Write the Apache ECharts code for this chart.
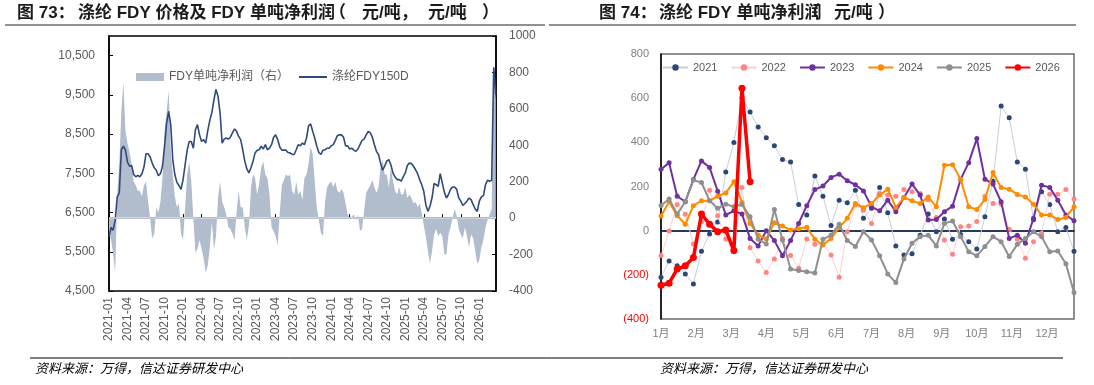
<!DOCTYPE html>
<html><head><meta charset="utf-8">
<script src="https://cdn.jsdelivr.net/npm/echarts@6/dist/echarts.min.js"></script>
<style>html,body{margin:0;padding:0;background:#fff}#c{width:1094px;height:385px}</style>
</head><body><div id="c"></div>
<script>
// ================= LEFT CHART DATA (one value every 1/3 month from 2021-01) =================
const leftXTicks = ['2021-01','2021-04','2021-07','2021-10','2022-01','2022-04','2022-07','2022-10',
  '2023-01','2023-04','2023-07','2023-10','2024-01','2024-04','2024-07','2024-10',
  '2025-01','2025-04','2025-07','2025-10','2026-01'];
// 涤纶FDY150D price (元/吨)
const fdyPrice = [
  5880,6120,6050,6300,6900,7000,8100,8190,8090,7780,
  7680,7700,7470,7410,7450,7410,7490,7660,8000,8000,
  7915,7760,7640,7580,7440,7490,7680,8190,8780,9080,
  8740,7850,7470,7270,7190,7090,7340,7720,8090,8310,
  8310,8140,8610,8740,8480,8310,8360,8270,8590,8850,
  9050,9370,9640,9460,9030,8270,8370,8400,8370,8420,
  8530,8630,8570,8440,8360,8100,7810,7610,7510,7640,
  7810,8020,8090,8100,8190,8120,8230,8100,8140,8230,
  8420,8480,8360,8170,8090,8090,8090,8030,8020,7980,
  7980,8100,8230,8200,8270,8230,8400,8710,8760,8570,
  8400,8190,8030,7980,8090,8100,8140,8140,8200,8230,
  8340,8460,8480,8480,8420,8200,8200,8120,8140,8090,
  8060,8120,8230,8340,8370,8480,8570,8530,8420,8230,
  8060,7980,7760,7580,7680,7810,7850,7720,7510,7410,
  7340,7340,7300,7410,7510,7700,7760,7750,7680,7590,
  7490,7340,7210,7040,6700,6530,6660,6870,7240,7210,
  7170,7490,7250,7020,6870,6960,7090,7150,7150,7090,
  6870,6790,6680,6730,6790,6870,6830,6700,6590,6530,
  6790,6900,6930,7210,7320,7300,7320,10200,9500
];
// FDY net profit per ton (元/吨, right axis)
const fdyProfit = [
  -80,-120,-190,-300,130,300,590,745,480,410,
  360,300,200,180,150,150,120,180,200,90,
  0,-110,-86,60,30,90,220,480,580,700,
  380,240,120,60,80,-86,-120,60,240,310,
  200,0,-190,-170,-120,-170,-220,-300,-260,-160,
  -20,-170,-100,110,200,90,60,20,-50,-60,
  -86,-120,30,150,60,60,-50,-120,-40,170,
  240,220,130,190,280,310,240,220,130,-50,
  -70,-100,-150,30,180,210,240,230,240,150,
  130,200,130,150,100,220,240,300,390,350,
  200,60,-10,-80,-100,90,170,190,200,170,
  200,150,140,160,140,80,20,0,10,20,
  -10,20,-70,-60,40,140,160,180,210,170,
  140,170,280,320,240,240,170,280,210,150,
  130,170,130,130,170,110,130,110,80,90,
  60,80,30,-40,-100,-180,-250,-180,-90,-60,
  -100,-80,-100,-200,-200,-90,-50,0,50,10,
  -60,-90,-110,-50,-100,-160,-90,-110,-180,-250,
  -230,-160,-120,-50,-10,20,50,840,650
];

// ================= RIGHT CHART DATA (weekly) =================
const monthLabels = ['1月','2月','3月','4月','5月','6月','7月','8月','9月','10月','11月','12月'];
const yearNames = ['2021','2022','2023','2024','2025','2026'];
const p2021 = [-211,-137,-159,-196,-241,-93,-15,39,266,399,602,537,469,421,384,322,311,119,71,248,156,23,138,126,183,56,101,196,81,-69,-110,-105,-21,75,-5,53,-39,-17,-50,-83,63,224,564,511,311,278,50,176,119,-5,14,-93];
const p2022 = [-113,-2,119,74,-60,40,183,68,-38,-95,195,-77,-137,-189,-128,-35,-113,-170,-38,-62,-60,-110,-211,-5,116,93,33,168,161,156,186,176,168,140,60,-42,-107,18,21,41,156,123,120,6,-39,-125,-50,-12,165,165,186,143];
const p2023 = [278,307,156,131,232,316,286,179,71,90,75,-35,-69,0,-45,-114,-45,33,113,186,202,241,256,226,208,180,108,90,138,86,150,211,161,48,51,86,111,232,308,417,233,211,131,-35,-21,-57,56,206,196,138,71,45];
const p2024 = [66,131,68,29,113,135,135,156,171,221,128,33,-20,-38,36,21,3,9,15,-39,-65,-35,14,56,123,104,123,161,188,105,150,135,123,153,108,296,299,233,108,96,141,263,195,188,164,153,120,71,71,51,60,108];
const p2025 = [114,143,75,131,229,218,135,101,120,108,119,63,-39,-60,96,-42,-174,-180,-186,-192,-39,-20,29,-45,-72,-5,-42,-114,-196,-235,-128,-57,-27,-21,-69,33,44,-27,-95,-114,-72,-27,-50,-117,-62,-35,-5,-27,-95,-92,-150,-280];
const p2026 = [-247,-238,-174,-159,-122,75,29,-5,3,-90,645,221];

// ================= TEXT =================
const titlePieces = [
  ['图 73：',17],['涤纶 FDY 价格及 FDY 单吨净利润',78],['（',329],['元/吨，',362],['元/吨',428],['）',482],
  ['图 74：',599],['涤纶 FDY 单吨净利润',659],['（',803],['元/吨',834],['）',878]
];
const sourceText = '资料来源：万得，信达证券研发中心';

// ================= BUILD =================
const toPairs = (arr, step) => arr.map((v, i) => [i * step, v]);
const fmtThousands = v => String(v).replace(/\B(?=(\d{3})+(?!\d))/g, ',');
const FONT = "'Liberation Sans','Noto Sans CJK SC',sans-serif";

const yearStyles = {
  '2021': {line:'#c5cedd', lw:1, dot:'#2b4677', size:5},
  '2022': {line:'#fbd0d0', lw:1, dot:'#ff8585', size:5},
  '2023': {line:'#7030a0', lw:2, dot:'#7030a0', size:5},
  '2024': {line:'#ff8c00', lw:2, dot:'#ff8c00', size:5},
  '2025': {line:'#8f8f8f', lw:2, dot:'#8f8f8f', size:5},
  '2026': {line:'#ff0000', lw:3.5, dot:'#ff0000', size:7}
};
const yearData = {'2021':p2021,'2022':p2022,'2023':p2023,'2024':p2024,'2025':p2025,'2026':p2026};

const rightSeries = yearNames.map((y, idx) => {
  const s = yearStyles[y];
  const ser = {
    type:'line', name:y, xAxisIndex:1, yAxisIndex:2,
    data: toPairs(yearData[y], 1),
    symbol:'circle', symbolSize:s.size, showSymbol:true,
    lineStyle:{color:s.line, width:s.lw},
    itemStyle:{color:s.dot, borderWidth:0},
    z: 3 + idx, silent:true
  };
  if (y === '2021') {
    ser.markLine = {silent:true, symbol:'none', label:{show:false},
      lineStyle:{color:'#1f3864', width:1.5, type:'solid'}, data:[{yAxis:0}], z:1};
  }
  return ser;
});

const titleGraphics = titlePieces.map(([t, x]) => ({type:'text', left:x, top:5,
  style:{text:t, fill:'#1c1c1c', font:"bold 17px 'Liberation Sans','Noto Sans CJK SC',sans-serif"}}));

const chart = echarts.init(document.getElementById('c'), null, {renderer:'canvas'});
chart.setOption({
  animation:false,
  textStyle:{fontFamily:FONT},
  grid:[
    {left:109, top:36, width:387, height:255, show:true, borderColor:'#000', borderWidth:1.5},
    {left:661, top:54, width:413, height:265, show:true, borderColor:'#6b6b6b', borderWidth:1.5}
  ],
  legend:[
    {left:131, top:66, itemWidth:28, itemHeight:8, itemGap:10,
     textStyle:{fontSize:12, color:'#595959'},
     data:[{name:'FDY单吨净利润（右）', icon:'rect'},
           {name:'涤纶FDY150D', icon:'path://M0,0 H28 V2 H0 Z'}]},
    {left:657, top:57, itemWidth:25, itemHeight:8, itemGap:13,
     textStyle:{fontSize:11, color:'#595959'}, data:yearNames}
  ],
  xAxis:[
    {gridIndex:0, type:'value', min:0, max:62.7, interval:3,
     axisLine:{lineStyle:{color:'#000', width:1.5}},
     axisTick:{inside:true, length:4, lineStyle:{color:'#000'}},
     splitLine:{show:false},
     axisLabel:{rotate:90, fontSize:12, color:'#595959', margin:6, showMaxLabel:false,
       formatter:v => leftXTicks[Math.round(v / 3)] || ''}},
    {gridIndex:1, type:'value', min:0, max:51, interval:52/12,
     axisLine:{lineStyle:{color:'#000', width:1.5}},
     axisTick:{show:false}, splitLine:{show:false},
     axisLabel:{fontSize:11, color:'#7f7f7f', margin:9, showMaxLabel:false,
       formatter:v => monthLabels[Math.round(v * 12 / 52)] || ''}}
  ],
  yAxis:[
    {gridIndex:0, type:'value', position:'left', min:4500, max:11000, interval:1000,
     axisLine:{show:true, lineStyle:{color:'#000', width:1.5}},
     axisTick:{show:true, inside:true, length:4, lineStyle:{color:'#000'}},
     splitLine:{show:false},
     axisLabel:{fontSize:12, color:'#595959', margin:14, showMaxLabel:false, formatter:v => fmtThousands(v)}},
    {gridIndex:0, type:'value', position:'right', min:-400, max:1000, interval:200,
     axisLine:{show:true, lineStyle:{color:'#000', width:1.5}},
     axisTick:{show:true, inside:true, length:4, lineStyle:{color:'#000'}},
     splitLine:{show:false},
     axisLabel:{fontSize:12, color:'#595959', margin:13, formatter:v => String(v)}},
    {gridIndex:1, type:'value', min:-400, max:800, interval:200,
     axisLine:{show:true, lineStyle:{color:'#000', width:1.5}},
     axisTick:{show:false}, splitLine:{show:false},
     axisLabel:{fontSize:11, margin:12,
       color:v => Number(v) < 0 ? '#ff0000' : '#7f7f7f',
       formatter:v => v < 0 ? '(' + (-v) + ')' : String(v)}}
  ],
  series:[
    {type:'line', name:'FDY单吨净利润（右）', xAxisIndex:0, yAxisIndex:1,
     data:toPairs(fdyProfit, 1/3), symbol:'none', showSymbol:false,
     lineStyle:{width:0, color:'#b1bccd'}, itemStyle:{color:'#b1bccd'},
     areaStyle:{color:'#b1bccd', opacity:1}, silent:true, z:2,
     markLine:{silent:true, symbol:'none', label:{show:false},
       lineStyle:{color:'#dde2ea', width:1.5, type:'solid'}, data:[{yAxis:0}]}},
    {type:'line', name:'涤纶FDY150D', xAxisIndex:0, yAxisIndex:0,
     data:toPairs(fdyPrice, 1/3), symbol:'none', showSymbol:false,
     lineStyle:{color:'#2f4b7c', width:1.6}, itemStyle:{color:'#2f4b7c'}, silent:true, z:3}
  ].concat(rightSeries),
  graphic: titleGraphics.concat([
    {type:'line', shape:{x1:5, y1:25, x2:545, y2:25}, style:{stroke:'#6d6d6d', lineWidth:1.5}},
    {type:'line', shape:{x1:549, y1:25, x2:1076, y2:25}, style:{stroke:'#6d6d6d', lineWidth:1.5}},
    {type:'line', shape:{x1:30, y1:358, x2:1063, y2:358}, style:{stroke:'#000', lineWidth:1}},
    {type:'text', left:35, top:362, style:{text:sourceText, fill:'#000',
      font:"italic 13px 'Noto Sans CJK SC',sans-serif"}},
    {type:'text', left:660, top:362, style:{text:sourceText, fill:'#000',
      font:"italic 13px 'Noto Sans CJK SC',sans-serif"}}
  ])
});
</script></body></html>
